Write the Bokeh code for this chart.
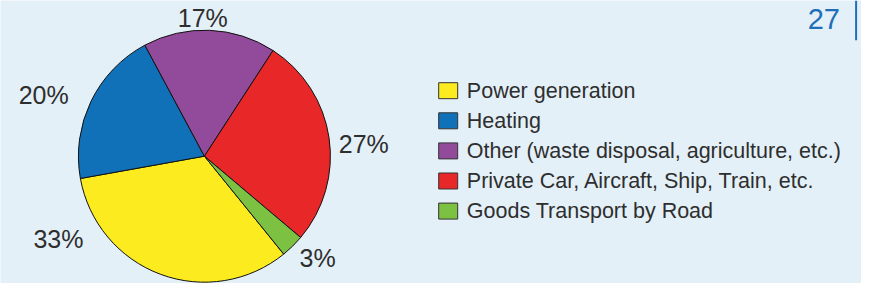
import math
from bokeh.plotting import figure
from bokeh.models import Range1d, ColumnDataSource
from bokeh.core.properties import value
from bokeh.embed import file_html
from bokeh.resources import INLINE

# ---- data ----
categories = [
    "Power generation",
    "Heating",
    "Other (waste disposal, agriculture, etc.)",
    "Private Car, Aircraft, Ship, Train, etc.",
    "Goods Transport by Road",
]
shares = [33, 20, 17, 27, 3]
share_labels = ["33%", "20%", "17%", "27%", "3%"]
colors = ["#FCEC1F", "#1171B8", "#924B9A", "#E82729", "#7DC142"]
page_number = "27"

# ---- layout (reference pixel coordinates) ----
W, H = 877, 299
BG = "#E4F0F8"
TXT = "#2E2E2E"
FONT = "Liberation Sans"
cx, cy = 207.7, 164.5
radius_px = 126
start_cw = 141.0  # degrees clockwise from 12 o'clock where first slice begins
label_pos = [(59, 252), (44, 100), (206, 18), (370, 152), (323, 272)]
legend_x, legend_y0, legend_dy = 456, 95.3, 31.8
legend_text_x = 475


def Y(v):
    return H - v


p = figure(width=861, height=283, output_backend="svg", toolbar_location=None,
           x_range=Range1d(0, W), y_range=Range1d(0, H), min_border=0)
p.background_fill_color = BG
p.border_fill_color = BG
p.outline_line_color = None
p.axis.visible = False
p.grid.visible = False

# pie wedges
total = sum(shares)
starts, ends = [], []
a = start_cw
for s in shares:
    a0, a1 = a, a + 360.0 * s / total
    starts.append(math.radians(90 - a1))
    ends.append(math.radians(90 - a0))
    a = a1
src = ColumnDataSource(dict(start=starts, end=ends, color=colors, cat=categories))
p.wedge(x=cx, y=Y(cy), radius=radius_px, radius_units="screen",
        start_angle="start", end_angle="end", direction="anticlock",
        fill_color="color", line_color="#111111", line_width=1, source=src)

# percentage labels
p.text(x=[q[0] for q in label_pos], y=[Y(q[1]) for q in label_pos], text=share_labels,
       text_align="center", text_baseline="middle", text_font=value(FONT),
       text_font_size="25px", text_color=TXT)

# legend
ly = [Y(legend_y0 + i * legend_dy) for i in range(len(categories))]
p.rect(x=[legend_x] * len(categories), y=ly, width=19, height=16,
       width_units="screen", height_units="screen",
       fill_color=colors, line_color="#333333", line_width=1)
p.text(x=[legend_text_x] * len(categories), y=ly, text=categories,
       text_align="left", text_baseline="middle", text_font=value(FONT),
       text_font_size="21.5px", text_color=TXT)

# page number and rule
p.text(x=[855], y=[Y(20)], text=[page_number], text_align="right",
       text_baseline="middle", text_font=value(FONT), text_font_size="29px",
       text_color="#1E6FB8")
p.segment(x0=[871.5], y0=[Y(0)], x1=[871.5], y1=[Y(42)], line_color="#1E6FB8",
          line_width=2)

open("out.html", "w").write(file_html(p, INLINE))
